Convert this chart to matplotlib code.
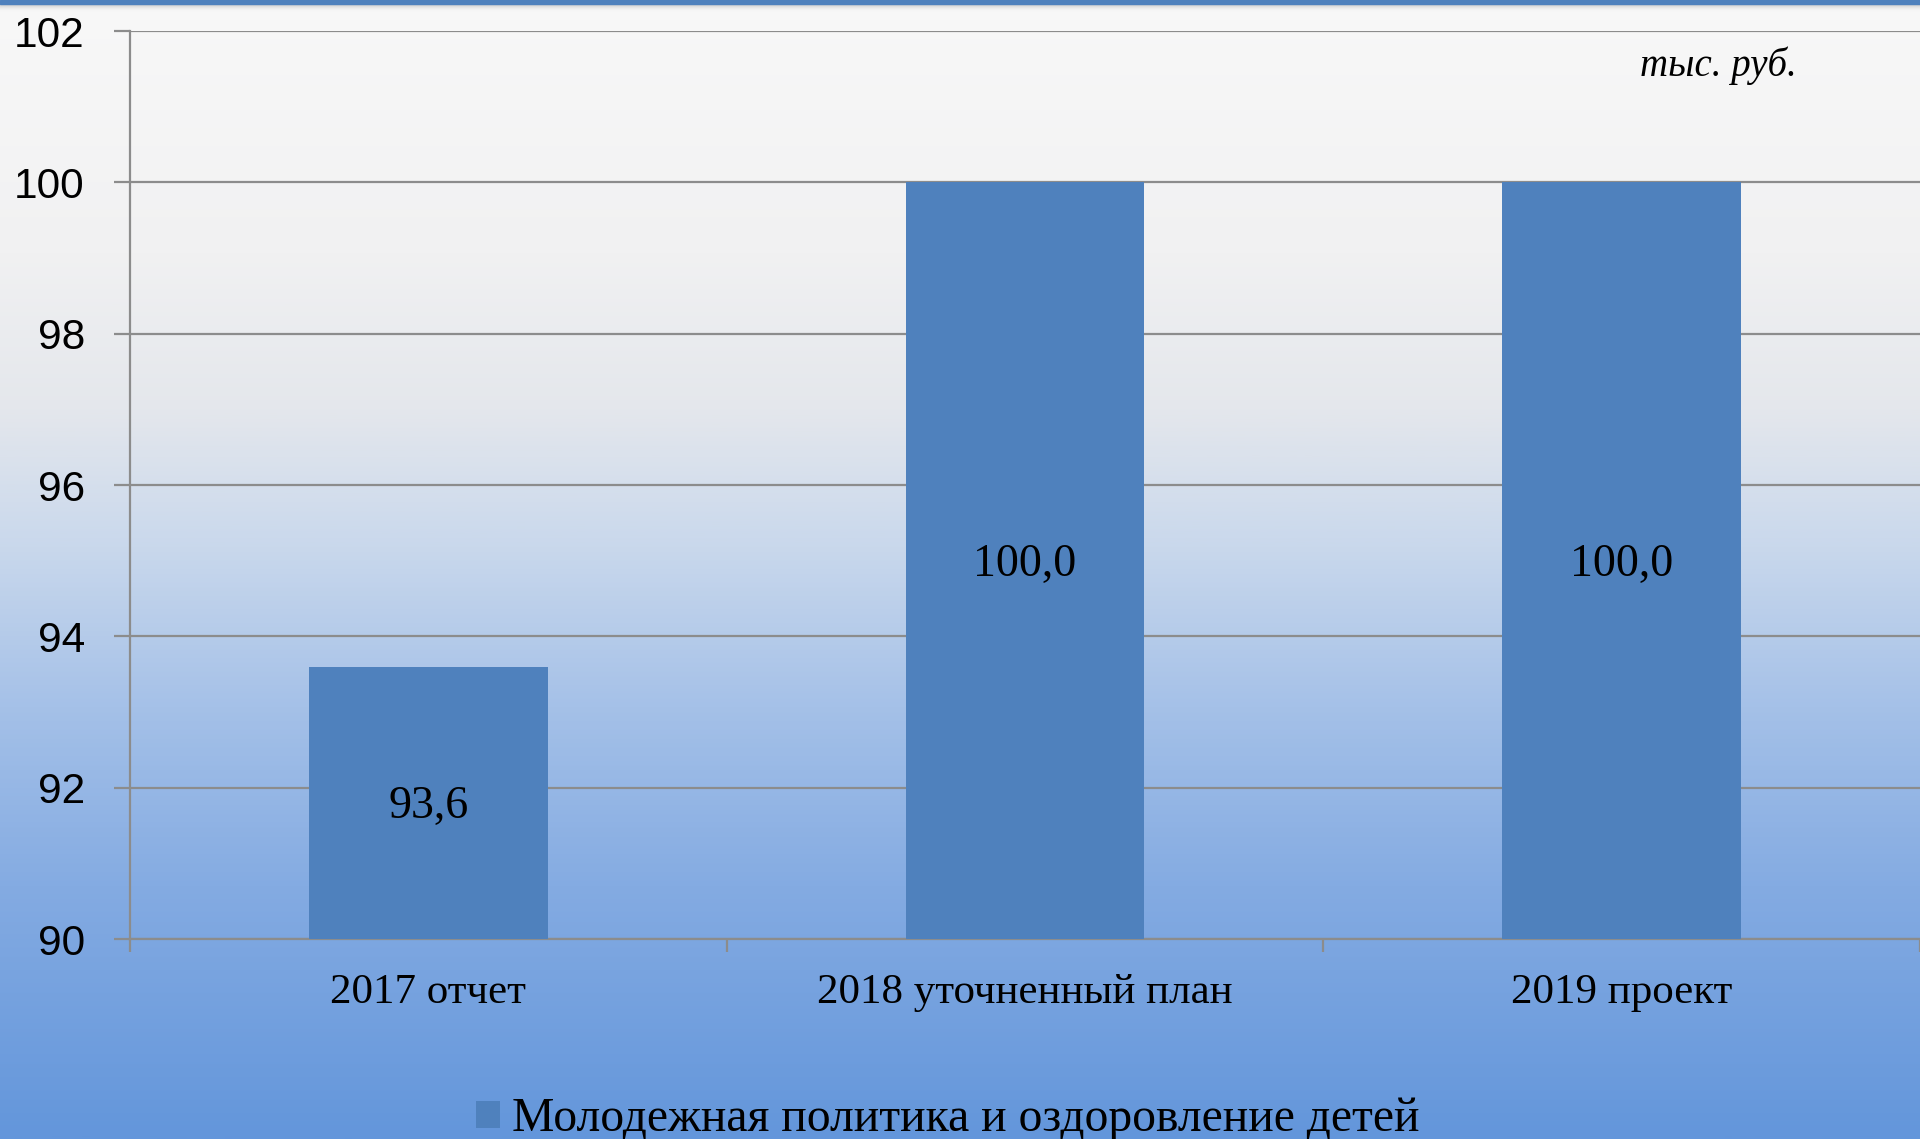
import numpy as np
import matplotlib
matplotlib.use("Agg")
import matplotlib.pyplot as plt
from matplotlib.colors import LinearSegmentedColormap

# data
categories = ["2017 отчет", "2018 уточненный план", "2019 проект"]
values = [93.6, 100.0, 100.0]
value_labels = ["93,6", "100,0", "100,0"]
series_name = "Молодежная политика и оздоровление детей"
y_ticks = [90, 92, 94, 96, 98, 100, 102]
unit_text = "тыс. руб."

bar_color = "#4f81bd"
grid_color = "#8c8c8c"

W, H = 1920, 1139
fig = plt.figure(figsize=(W / 100, H / 100), dpi=100)

# background gradient (top light grey -> blue at the bottom)
bg = fig.add_axes([0, 0, 1, 1], zorder=-10)
cmap = LinearSegmentedColormap.from_list(
    "bg",
    [(0.0, "#f8f8f8"), (0.22, "#f1f1f2"), (0.36, "#e4e7ec"), (0.48, "#c9d8ec"),
     (0.62, "#a5c1e8"), (0.78, "#84abe2"), (1.0, "#6396db")])
grad = np.linspace(0, 1, 512).reshape(-1, 1)
bg.imshow(grad, aspect="auto", cmap=cmap, extent=[0, 1, 0, 1], origin="upper")
# top blue strip with a soft shadow
shadow = np.linspace(0, 1, 64).reshape(-1, 1)
bg.imshow(shadow, aspect="auto", cmap=LinearSegmentedColormap.from_list(
    "sh", [(0, (0.55, 0.55, 0.55, 0.6)), (1, (0.97, 0.97, 0.97, 0.0))]),
    extent=[0, 1, 1 - 12 / H, 1 - 3 / H], origin="upper")
bg.axhspan(1 - 3.5 / H, 1, color="#4f81bd")
bg.set_xlim(0, 1)
bg.set_ylim(0, 1)
bg.axis("off")

ax = fig.add_axes([130 / W, (H - 939) / H, (W - 130) / W, 908 / H])
ax.patch.set_alpha(0)

x = np.arange(len(categories))
bars = ax.bar(x, values, width=0.4, color=bar_color, zorder=3, label=series_name)

for xi, v, lab in zip(x, values, value_labels):
    ax.annotate(lab, (xi, (90 + v) / 2), xytext=(0, -3), textcoords="offset points",
                ha="center", va="center", fontsize=33, family="Liberation Serif",
                color="black", zorder=4)

ax.set_ylim(90, 102)
ax.set_xlim(-0.5, 2.5)
ax.set_yticks(y_ticks)
ax.set_yticklabels([str(t) for t in y_ticks], family="Liberation Sans", fontsize=30.5)
ax.yaxis.grid(True, color=grid_color, linewidth=1.6, zorder=0)
ax.set_axisbelow(True)
ax.tick_params(axis="y", length=11.5, width=1.6, color=grid_color, pad=21)

ax.set_xticks(x)
ax.set_xticklabels(categories, family="Liberation Serif", fontsize=31)
ax.tick_params(axis="x", which="major", length=0, pad=25)
ax.set_xticks([-0.5, 0.5, 1.5, 2.5], minor=True)
ax.tick_params(axis="x", which="minor", length=9, width=1.6, color=grid_color)

for s in ["top", "right"]:
    ax.spines[s].set_visible(False)
for s in ["left", "bottom"]:
    ax.spines[s].set_color(grid_color)
    ax.spines[s].set_linewidth(1.6)

ax.text(1718 / W, (H - 66) / H, unit_text, transform=fig.transFigure,
        ha="center", va="center", fontsize=28, style="italic",
        family="Liberation Serif")

fig.legend(handles=[bars], labels=[series_name], loc="center",
           bbox_to_anchor=(948 / W, 20 / H), frameon=False,
           prop={"family": "Liberation Serif", "size": 34.3},
           handlelength=0.5, handleheight=0.5, handletextpad=0.25,
           borderpad=0, borderaxespad=0)

fig.savefig("out.png", dpi=100)
